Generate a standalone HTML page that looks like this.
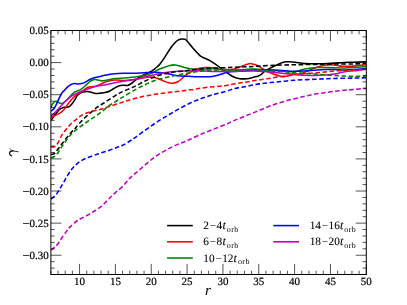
<!DOCTYPE html>
<html><head><meta charset="utf-8"><title>gamma vs r</title>
<style>
html,body{margin:0;padding:0;background:#ffffff;}
body{width:407px;height:305px;overflow:hidden;position:relative;font-family:"Liberation Serif",serif;}
</style></head><body>
<svg width="407" height="305" viewBox="0 0 407 305" style="position:absolute;left:0;top:0">
<rect x="0" y="0" width="407" height="305" fill="#ffffff"/>
<defs><clipPath id="ax"><rect x="50.875" y="30.500" width="315.425" height="244.000"/></clipPath><filter id="ff" x="0" y="0" width="407" height="305" filterUnits="userSpaceOnUse"><feOffset dx="0" dy="0"/></filter></defs>
<g clip-path="url(#ax)" fill="none" stroke-linejoin="round">
<path d="M51.00,120.50C51.57,119.67 53.33,116.93 54.40,115.50C55.47,114.07 56.42,113.00 57.40,111.90C58.38,110.80 59.32,109.65 60.30,108.90C61.28,108.15 62.32,107.65 63.30,107.40C64.28,107.15 65.22,107.52 66.20,107.40C67.18,107.28 68.22,107.32 69.20,106.70C70.18,106.08 71.12,104.93 72.10,103.70C73.08,102.47 74.25,100.65 75.10,99.30C75.95,97.95 76.35,96.64 77.20,95.60C78.05,94.55 79.22,93.64 80.20,93.03C81.18,92.42 81.88,92.17 83.10,91.93C84.32,91.69 86.02,91.52 87.50,91.60C88.98,91.68 90.52,92.08 92.00,92.40C93.48,92.72 94.93,93.42 96.40,93.54C97.87,93.66 99.37,93.28 100.80,93.12C102.23,92.96 103.48,92.95 105.00,92.60C106.52,92.25 108.43,91.68 109.90,91.00C111.37,90.32 112.32,89.33 113.80,88.50C115.28,87.67 117.15,86.53 118.80,86.00C120.45,85.47 122.25,85.40 123.70,85.30C125.15,85.20 126.28,85.67 127.50,85.40C128.72,85.13 129.83,84.43 131.00,83.70C132.17,82.97 133.33,81.92 134.50,81.00C135.67,80.08 136.85,79.02 138.00,78.20C139.15,77.38 140.02,76.85 141.40,76.10C142.78,75.35 144.83,74.38 146.30,73.70C147.77,73.02 148.90,72.72 150.20,72.00C151.50,71.28 152.88,70.32 154.10,69.40C155.32,68.48 156.52,67.42 157.50,66.50C158.48,65.58 158.97,65.17 160.00,63.90C161.03,62.63 162.45,60.73 163.70,58.90C164.95,57.07 166.25,54.83 167.50,52.90C168.75,50.97 170.07,48.87 171.20,47.30C172.33,45.73 173.37,44.55 174.30,43.50C175.23,42.45 175.97,41.67 176.80,41.00C177.63,40.33 178.47,39.83 179.30,39.50C180.13,39.17 180.87,39.03 181.80,39.00C182.73,38.97 184.07,39.00 184.90,39.30C185.73,39.60 186.13,40.13 186.80,40.80C187.47,41.47 187.97,42.18 188.90,43.30C189.83,44.42 191.18,46.08 192.40,47.50C193.62,48.92 194.95,50.45 196.20,51.80C197.45,53.15 198.77,54.66 199.90,55.60C201.03,56.54 201.97,56.91 203.00,57.44C204.03,57.97 204.90,58.24 206.10,58.80C207.30,59.36 208.53,59.81 210.20,60.80C211.87,61.79 214.13,63.34 216.10,64.72C218.07,66.10 220.03,67.64 222.00,69.09C223.97,70.54 225.93,72.07 227.90,73.40C229.87,74.73 231.83,76.18 233.80,77.06C235.77,77.94 237.53,78.43 239.70,78.70C241.87,78.97 244.63,78.89 246.80,78.70C248.97,78.51 251.33,77.87 252.70,77.55C254.07,77.23 254.13,77.00 255.00,76.77C255.87,76.54 256.92,76.52 257.90,76.18C258.88,75.84 259.75,75.53 260.90,74.71C262.05,73.88 263.33,72.29 264.80,71.23C266.27,70.17 268.05,69.25 269.70,68.36C271.35,67.47 273.05,66.68 274.70,65.89C276.35,65.10 277.97,64.29 279.60,63.64C281.23,62.99 282.87,62.28 284.50,61.97C286.13,61.66 287.65,61.76 289.40,61.80C291.15,61.84 292.43,61.89 295.00,62.19C297.57,62.49 301.52,63.36 304.80,63.62C308.08,63.88 311.42,63.75 314.70,63.77C317.98,63.79 321.23,63.87 324.50,63.76C327.77,63.65 331.03,63.33 334.30,63.12C337.57,62.91 340.82,62.64 344.10,62.49C347.38,62.34 350.35,62.35 354.00,62.24C357.65,62.13 364.00,61.89 366.00,61.82" stroke="#000000" stroke-width="1.55"/>
<path d="M51.00,117.60C51.65,117.27 53.43,116.35 54.90,115.60C56.37,114.85 58.32,114.08 59.80,113.10C61.28,112.12 62.65,110.92 63.80,109.70C64.95,108.48 65.72,107.12 66.70,105.80C67.68,104.48 68.72,103.05 69.70,101.80C70.68,100.55 71.47,99.50 72.60,98.30C73.73,97.10 75.10,95.62 76.50,94.60C77.90,93.58 79.58,93.10 81.00,92.20C82.42,91.30 83.85,90.02 85.00,89.20C86.15,88.38 86.75,87.72 87.90,87.30C89.05,86.88 90.58,86.88 91.90,86.70C93.22,86.52 94.50,86.52 95.80,86.20C97.10,85.88 98.38,85.37 99.70,84.80C101.02,84.23 102.38,83.38 103.70,82.80C105.02,82.22 106.13,81.72 107.60,81.30C109.07,80.88 110.87,80.50 112.50,80.30C114.13,80.10 115.32,80.05 117.40,80.10C119.48,80.15 122.15,80.72 125.00,80.60C127.85,80.48 132.33,79.68 134.50,79.40C136.67,79.12 136.65,79.13 138.00,78.90C139.35,78.67 141.02,78.28 142.60,78.00C144.18,77.72 145.87,77.33 147.50,77.20C149.13,77.07 151.10,77.10 152.40,77.20C153.70,77.30 154.37,77.58 155.30,77.80C156.23,78.02 157.05,78.18 158.00,78.50C158.95,78.82 159.90,79.22 161.00,79.70C162.10,80.18 163.35,80.88 164.60,81.40C165.85,81.92 167.13,82.50 168.50,82.80C169.87,83.10 171.25,83.37 172.80,83.20C174.35,83.03 176.32,82.54 177.80,81.80C179.28,81.06 180.40,79.81 181.70,78.75C183.00,77.69 184.28,76.47 185.60,75.44C186.92,74.41 188.12,73.51 189.60,72.60C191.08,71.69 192.87,70.73 194.50,70.00C196.13,69.27 197.77,68.60 199.40,68.20C201.03,67.80 202.67,67.73 204.30,67.60C205.93,67.47 207.57,67.37 209.20,67.44C210.83,67.51 212.30,67.67 214.10,68.00C215.90,68.33 218.03,69.07 220.00,69.40C221.97,69.73 223.93,69.97 225.90,70.00C227.87,70.03 230.08,69.88 231.80,69.60C233.52,69.32 234.83,68.75 236.20,68.30C237.57,67.85 238.78,67.35 240.00,66.90C241.22,66.45 242.33,66.03 243.50,65.60C244.67,65.17 245.92,64.63 247.00,64.30C248.08,63.97 249.00,63.63 250.00,63.60C251.00,63.57 252.17,63.93 253.00,64.10C253.83,64.27 254.18,64.33 255.00,64.60C255.82,64.87 256.92,65.20 257.90,65.70C258.88,66.20 259.75,66.88 260.90,67.60C262.05,68.32 263.33,69.18 264.80,70.00C266.27,70.82 268.05,71.75 269.70,72.50C271.35,73.25 273.05,73.90 274.70,74.50C276.35,75.10 278.30,75.73 279.60,76.10C280.90,76.47 281.52,76.65 282.50,76.70C283.48,76.75 284.35,76.58 285.50,76.40C286.65,76.22 287.82,75.90 289.40,75.60C290.98,75.30 293.58,74.74 295.00,74.60C296.42,74.46 296.92,74.93 297.90,74.78C298.88,74.63 299.42,74.26 300.90,73.70C302.38,73.14 304.83,72.22 306.80,71.40C308.77,70.58 310.73,69.58 312.70,68.80C314.67,68.02 316.63,67.33 318.60,66.74C320.57,66.15 322.53,65.59 324.50,65.25C326.47,64.91 328.43,64.71 330.40,64.70C332.37,64.69 334.33,64.95 336.30,65.20C338.27,65.45 339.92,66.03 342.20,66.20C344.48,66.37 347.38,66.30 350.00,66.20C352.62,66.10 355.23,65.85 357.90,65.60C360.57,65.35 364.65,64.85 366.00,64.70" stroke="#ff0000" stroke-width="1.55"/>
<path d="M51.00,107.60C51.32,106.93 52.08,104.65 52.90,103.60C53.72,102.55 54.92,101.47 55.90,101.30C56.88,101.13 57.82,102.23 58.80,102.60C59.78,102.97 60.82,103.63 61.80,103.50C62.78,103.37 63.75,102.52 64.70,101.80C65.65,101.08 66.62,100.08 67.50,99.20C68.38,98.32 69.13,97.43 70.00,96.50C70.87,95.57 71.75,94.43 72.70,93.60C73.65,92.77 74.63,92.02 75.70,91.50C76.77,90.98 77.95,91.07 79.10,90.50C80.25,89.93 81.37,89.08 82.60,88.10C83.83,87.12 85.20,85.75 86.50,84.60C87.80,83.45 89.25,82.02 90.40,81.20C91.55,80.38 92.58,79.98 93.40,79.70C94.22,79.42 94.53,79.45 95.30,79.50C96.07,79.55 97.05,79.78 98.00,80.00C98.95,80.22 99.83,80.70 101.00,80.80C102.17,80.90 102.70,80.97 105.00,80.60C107.30,80.23 111.52,79.03 114.80,78.60C118.08,78.17 121.42,78.27 124.70,78.00C127.98,77.73 131.23,77.40 134.50,77.00C137.77,76.60 141.35,76.25 144.30,75.60C147.25,74.95 149.90,74.08 152.20,73.10C154.50,72.12 156.13,70.65 158.10,69.70C160.07,68.75 162.03,68.10 164.00,67.40C165.97,66.70 168.10,65.92 169.90,65.50C171.70,65.08 173.17,64.83 174.80,64.90C176.43,64.97 178.05,65.48 179.70,65.90C181.35,66.32 182.88,66.92 184.70,67.40C186.52,67.88 188.32,68.47 190.60,68.80C192.88,69.13 195.78,69.37 198.40,69.40C201.02,69.43 203.68,69.10 206.30,69.00C208.92,68.90 211.15,68.73 214.10,68.80C217.05,68.87 220.72,69.20 224.00,69.40C227.28,69.60 230.30,70.00 233.80,70.00C237.30,70.00 241.52,69.55 245.00,69.40C248.48,69.25 249.82,68.92 254.70,69.10C259.58,69.28 267.75,70.08 274.30,70.50C280.85,70.92 289.23,71.82 294.00,71.65C298.77,71.48 300.12,70.12 302.90,69.50C305.68,68.88 308.08,68.23 310.70,67.90C313.32,67.57 315.98,67.55 318.60,67.50C321.22,67.45 323.78,67.57 326.40,67.60C329.02,67.62 331.35,67.58 334.30,67.65C337.25,67.72 340.82,68.01 344.10,68.00C347.38,67.99 350.35,67.83 354.00,67.60C357.65,67.37 364.00,66.77 366.00,66.60" stroke="#008000" stroke-width="1.55"/>
<path d="M51.00,111.20C51.25,111.00 52.02,110.42 52.50,110.00C52.98,109.58 53.25,109.65 53.90,108.70C54.55,107.75 55.58,105.93 56.40,104.30C57.22,102.67 58.07,100.45 58.80,98.90C59.53,97.35 60.18,96.10 60.80,95.00C61.42,93.90 61.85,93.13 62.50,92.30C63.15,91.47 63.83,90.92 64.70,90.00C65.57,89.08 66.72,87.68 67.70,86.80C68.68,85.92 69.50,85.25 70.60,84.70C71.70,84.15 73.07,83.62 74.30,83.50C75.53,83.38 76.77,83.98 78.00,84.00C79.23,84.02 80.47,83.92 81.70,83.60C82.93,83.28 84.05,82.78 85.40,82.10C86.75,81.42 88.33,80.23 89.80,79.50C91.27,78.77 92.48,78.20 94.20,77.70C95.92,77.20 98.30,76.92 100.10,76.50C101.90,76.08 102.55,75.67 105.00,75.20C107.45,74.73 111.52,74.02 114.80,73.70C118.08,73.38 121.42,73.37 124.70,73.30C127.98,73.23 131.23,73.40 134.50,73.30C137.77,73.20 141.03,72.87 144.30,72.70C147.57,72.53 150.82,72.27 154.10,72.30C157.38,72.33 160.87,72.45 164.00,72.90C167.13,73.35 170.12,74.47 172.90,75.00C175.68,75.53 178.08,75.88 180.70,76.10C183.32,76.32 185.98,76.20 188.60,76.30C191.22,76.40 193.78,76.63 196.40,76.70C199.02,76.77 201.67,76.74 204.30,76.70C206.93,76.66 209.90,76.71 212.20,76.46C214.50,76.21 216.13,75.74 218.10,75.20C220.07,74.66 221.72,73.83 224.00,73.20C226.28,72.57 228.30,71.80 231.80,71.43C235.30,71.06 241.18,71.25 245.00,71.00C248.82,70.75 249.82,70.08 254.70,69.90C259.58,69.72 267.75,69.67 274.30,69.90C280.85,70.13 288.92,71.13 294.00,71.30C299.08,71.47 301.35,71.08 304.80,70.90C308.25,70.72 311.42,70.42 314.70,70.20C317.98,69.98 321.23,69.70 324.50,69.60C327.77,69.50 331.03,69.53 334.30,69.60C337.57,69.67 340.82,70.00 344.10,70.00C347.38,70.00 350.35,69.83 354.00,69.60C357.65,69.37 364.00,68.77 366.00,68.60" stroke="#0000ff" stroke-width="1.55"/>
<path d="M51.00,116.50C51.82,115.67 54.35,113.12 55.90,111.50C57.45,109.88 58.83,108.38 60.30,106.80C61.77,105.22 63.22,103.50 64.70,102.00C66.18,100.50 67.72,98.99 69.20,97.80C70.68,96.61 71.88,95.81 73.60,94.86C75.32,93.91 77.53,92.93 79.50,92.10C81.47,91.27 83.43,90.61 85.40,89.90C87.37,89.19 89.33,88.47 91.30,87.82C93.27,87.17 94.92,86.49 97.20,86.00C99.48,85.51 102.07,85.45 105.00,84.90C107.93,84.35 111.52,83.34 114.80,82.69C118.08,82.04 121.42,81.55 124.70,81.00C127.98,80.45 131.23,80.06 134.50,79.40C137.77,78.74 141.03,77.81 144.30,77.03C147.57,76.25 150.82,75.42 154.10,74.70C157.38,73.98 160.55,73.25 164.00,72.70C167.45,72.15 171.35,71.68 174.80,71.40C178.25,71.12 181.42,71.10 184.70,71.00C187.98,70.90 191.23,70.80 194.50,70.80C197.77,70.80 201.03,70.90 204.30,71.00C207.57,71.10 210.82,71.33 214.10,71.40C217.38,71.47 220.72,71.40 224.00,71.40C227.28,71.40 230.30,71.48 233.80,71.40C237.30,71.32 241.52,70.95 245.00,70.90C248.48,70.85 251.45,71.02 254.70,71.10C257.95,71.18 261.23,71.18 264.50,71.40C267.77,71.62 271.03,72.07 274.30,72.40C277.57,72.73 280.82,73.12 284.10,73.40C287.38,73.68 290.55,73.79 294.00,74.10C297.45,74.41 301.35,75.02 304.80,75.25C308.25,75.48 311.42,75.53 314.70,75.50C317.98,75.47 321.88,75.27 324.50,75.10C327.12,74.93 328.43,74.67 330.40,74.46C332.37,74.25 334.33,74.18 336.30,73.82C338.27,73.46 339.92,72.77 342.20,72.30C344.48,71.83 347.38,71.32 350.00,71.00C352.62,70.68 355.23,70.70 357.90,70.40C360.57,70.10 364.65,69.42 366.00,69.22" stroke="#bf00bf" stroke-width="1.55"/>
<path d="M51.00,154.60C51.57,154.42 53.42,154.17 54.40,153.50C55.38,152.83 56.00,151.73 56.90,150.60C57.80,149.47 58.82,148.00 59.80,146.70C60.78,145.40 61.65,144.28 62.80,142.80C63.95,141.32 65.40,139.45 66.70,137.80C68.00,136.15 69.45,134.20 70.60,132.90C71.75,131.60 72.77,130.82 73.60,130.00C74.43,129.18 74.62,129.12 75.60,128.00C76.58,126.88 77.87,125.04 79.50,123.25C81.13,121.46 83.43,119.11 85.40,117.25C87.37,115.39 89.33,113.75 91.30,112.08C93.27,110.41 95.23,108.63 97.20,107.20C99.17,105.77 101.13,104.77 103.10,103.50C105.07,102.23 107.03,100.88 109.00,99.60C110.97,98.32 113.07,96.92 114.90,95.80C116.73,94.68 118.37,93.75 120.00,92.90C121.63,92.05 122.28,91.75 124.70,90.70C127.12,89.65 131.23,88.13 134.50,86.58C137.77,85.03 141.03,83.00 144.30,81.40C147.57,79.80 150.82,78.25 154.10,77.00C157.38,75.75 160.72,74.73 164.00,73.90C167.28,73.07 170.30,72.53 173.80,72.04C177.30,71.55 182.20,71.30 185.00,70.94C187.80,70.58 187.38,70.31 190.60,69.90C193.82,69.49 199.40,68.81 204.30,68.48C209.20,68.15 215.08,68.10 220.00,67.90C224.92,67.70 229.63,67.48 233.80,67.30C237.97,67.12 241.52,66.95 245.00,66.80C248.48,66.65 249.82,66.66 254.70,66.40C259.58,66.14 267.75,65.50 274.30,65.23C280.85,64.96 287.27,64.94 294.00,64.80C300.73,64.66 307.98,64.52 314.70,64.40C321.42,64.28 327.75,64.17 334.30,64.09C340.85,64.01 348.72,64.03 354.00,63.90C359.28,63.77 364.00,63.40 366.00,63.30" stroke="#000000" stroke-width="1.55" stroke-dasharray="4.6 2.5"/>
<path d="M51.00,147.10C51.63,147.00 53.67,147.18 54.80,146.53C55.93,145.88 56.82,144.78 57.80,143.20C58.78,141.62 59.55,139.08 60.70,137.05C61.85,135.03 63.38,132.83 64.70,131.05C66.02,129.28 67.37,127.80 68.60,126.40C69.83,125.00 70.85,123.77 72.10,122.65C73.35,121.53 74.87,120.71 76.10,119.71C77.33,118.71 77.95,117.70 79.50,116.66C81.05,115.62 83.43,114.33 85.40,113.49C87.37,112.65 89.33,112.15 91.30,111.60C93.27,111.05 95.23,110.73 97.20,110.21C99.17,109.69 101.13,109.09 103.10,108.47C105.07,107.85 106.72,107.23 109.00,106.50C111.28,105.77 114.18,104.94 116.80,104.10C119.42,103.26 122.20,102.29 124.70,101.49C127.20,100.69 128.65,100.16 131.80,99.30C134.95,98.44 139.67,97.13 143.60,96.30C147.53,95.47 151.47,94.90 155.40,94.30C159.33,93.70 163.27,93.23 167.20,92.71C171.13,92.19 175.07,91.69 179.00,91.20C182.93,90.72 186.58,90.38 190.80,89.80C195.02,89.22 198.77,88.39 204.30,87.70C209.83,87.01 218.88,86.31 224.00,85.66C229.12,85.00 231.53,84.33 235.00,83.77C238.47,83.21 241.52,82.85 244.80,82.30C248.08,81.75 251.42,81.02 254.70,80.49C257.98,79.96 261.23,79.58 264.50,79.10C267.77,78.62 269.38,78.35 274.30,77.60C279.22,76.85 288.92,75.28 294.00,74.60C299.08,73.92 301.35,73.75 304.80,73.50C308.25,73.25 311.42,73.35 314.70,73.10C317.98,72.85 321.23,72.34 324.50,71.98C327.77,71.62 331.03,71.16 334.30,70.93C337.57,70.70 340.82,70.75 344.10,70.60C347.38,70.44 350.35,70.23 354.00,70.00C357.65,69.77 364.00,69.33 366.00,69.20" stroke="#ff0000" stroke-width="1.55" stroke-dasharray="4.6 2.5"/>
<path d="M51.00,158.00C51.57,157.75 53.33,157.25 54.40,156.50C55.47,155.75 56.50,154.65 57.40,153.50C58.30,152.35 58.90,150.98 59.80,149.60C60.70,148.22 61.65,146.83 62.80,145.20C63.95,143.57 65.40,141.52 66.70,139.80C68.00,138.08 69.45,136.22 70.60,134.90C71.75,133.58 72.12,133.18 73.60,131.90C75.08,130.62 77.53,128.73 79.50,127.25C81.47,125.77 83.43,124.39 85.40,123.00C87.37,121.61 89.33,120.25 91.30,118.93C93.27,117.61 95.23,116.50 97.20,115.10C99.17,113.70 101.13,112.11 103.10,110.55C105.07,108.98 107.03,107.13 109.00,105.71C110.97,104.28 112.93,103.23 114.90,102.00C116.87,100.77 119.17,99.32 120.80,98.30C122.43,97.28 122.42,97.26 124.70,95.90C126.98,94.55 131.23,91.99 134.50,90.17C137.77,88.35 141.03,86.56 144.30,85.00C147.57,83.44 150.82,81.95 154.10,80.80C157.38,79.64 160.55,78.94 164.00,78.07C167.45,77.20 171.35,76.34 174.80,75.60C178.25,74.86 181.42,74.22 184.70,73.63C187.98,73.04 191.23,72.51 194.50,72.04C197.77,71.57 201.05,71.11 204.30,70.80C207.55,70.49 210.72,70.37 214.00,70.20C217.28,70.03 220.70,69.83 224.00,69.80C227.30,69.77 230.30,70.02 233.80,70.00C237.30,69.98 241.52,69.77 245.00,69.70C248.48,69.63 251.37,69.48 254.70,69.60C258.03,69.72 261.62,70.14 265.00,70.40C268.38,70.66 271.67,70.92 275.00,71.15C278.33,71.38 281.67,71.53 285.00,71.80C288.33,72.07 290.05,72.42 295.00,72.80C299.95,73.18 308.15,73.65 314.70,74.10C321.25,74.55 329.40,75.17 334.30,75.50C339.20,75.83 340.82,75.95 344.10,76.10C347.38,76.25 350.35,76.40 354.00,76.40C357.65,76.40 364.00,76.15 366.00,76.10" stroke="#008000" stroke-width="1.55" stroke-dasharray="4.6 2.5"/>
<path d="M51.00,199.00C51.80,198.33 54.35,196.65 55.80,195.00C57.25,193.35 58.38,191.22 59.70,189.10C61.02,186.98 62.38,184.58 63.70,182.30C65.02,180.02 66.30,177.53 67.60,175.40C68.90,173.27 70.18,171.20 71.50,169.50C72.82,167.80 74.02,166.58 75.50,165.20C76.98,163.82 78.60,162.38 80.40,161.20C82.20,160.02 84.02,159.08 86.30,158.10C88.58,157.12 91.55,156.18 94.10,155.30C96.65,154.42 99.03,153.65 101.60,152.80C104.17,151.95 106.97,151.08 109.50,150.20C112.03,149.32 114.60,148.32 116.80,147.50C119.00,146.68 120.20,146.58 122.70,145.30C125.20,144.02 128.32,142.16 131.80,139.83C135.28,137.50 139.67,134.14 143.60,131.34C147.53,128.54 151.47,125.63 155.40,123.04C159.33,120.45 163.27,118.15 167.20,115.78C171.13,113.41 175.07,111.02 179.00,108.85C182.93,106.68 186.87,104.58 190.80,102.78C194.73,100.98 198.67,99.47 202.60,98.06C206.53,96.65 210.47,95.44 214.40,94.31C218.33,93.18 222.77,92.29 226.20,91.30C229.63,90.31 231.90,89.16 235.00,88.39C238.10,87.62 241.52,87.31 244.80,86.70C248.08,86.09 251.42,85.27 254.70,84.70C257.98,84.13 261.23,83.72 264.50,83.30C267.77,82.88 271.03,82.55 274.30,82.20C277.57,81.85 280.82,81.52 284.10,81.20C287.38,80.88 288.90,80.62 294.00,80.30C299.10,79.98 307.98,79.58 314.70,79.27C321.42,78.96 327.75,78.65 334.30,78.45C340.85,78.25 348.72,78.22 354.00,78.10C359.28,77.97 364.00,77.77 366.00,77.70" stroke="#0000ff" stroke-width="1.55" stroke-dasharray="4.6 2.5"/>
<path d="M51.00,250.00C51.58,249.57 53.43,248.30 54.50,247.40C55.57,246.50 56.27,246.03 57.40,244.60C58.53,243.17 59.92,240.83 61.30,238.80C62.68,236.77 64.55,234.03 65.70,232.40C66.85,230.77 67.47,229.92 68.20,229.00C68.93,228.08 69.03,227.93 70.10,226.90C71.17,225.87 73.28,223.90 74.60,222.80C75.92,221.70 76.85,221.05 78.00,220.30C79.15,219.55 79.93,219.13 81.50,218.30C83.07,217.47 85.65,216.27 87.40,215.30C89.15,214.33 90.37,213.48 92.00,212.50C93.63,211.52 95.35,210.70 97.20,209.40C99.05,208.10 101.13,206.47 103.10,204.70C105.07,202.93 107.03,200.73 109.00,198.80C110.97,196.87 112.62,195.18 114.90,193.10C117.18,191.02 120.28,188.72 122.70,186.30C125.12,183.88 127.63,180.48 129.40,178.60C131.17,176.72 131.58,176.48 133.30,175.00C135.02,173.52 137.42,171.65 139.70,169.70C141.98,167.75 144.53,165.37 147.00,163.30C149.47,161.23 152.00,159.13 154.50,157.30C157.00,155.47 159.55,153.78 162.00,152.30C164.45,150.82 166.78,149.63 169.20,148.40C171.62,147.17 174.03,145.97 176.50,144.90C178.97,143.83 181.62,142.98 184.00,142.00C186.38,141.02 187.70,140.42 190.80,139.00C193.90,137.58 198.67,135.18 202.60,133.50C206.53,131.82 210.47,130.45 214.40,128.90C218.33,127.35 223.12,125.52 226.20,124.20C229.28,122.88 229.82,122.31 232.90,120.99C235.98,119.66 240.27,118.02 244.70,116.25C249.13,114.48 254.58,112.32 259.50,110.35C264.42,108.38 269.28,106.17 274.20,104.45C279.12,102.73 284.08,101.37 289.00,100.05C293.92,98.73 299.42,97.55 303.70,96.55C307.98,95.55 311.23,94.68 314.70,94.05C318.17,93.42 321.23,93.20 324.50,92.75C327.77,92.30 331.03,91.75 334.30,91.35C337.57,90.95 340.82,90.67 344.10,90.35C347.38,90.03 350.35,89.74 354.00,89.42C357.65,89.10 364.00,88.59 366.00,88.42" stroke="#bf00bf" stroke-width="1.55" stroke-dasharray="4.6 2.5"/>
</g>
<path d="M50.88,274.50v-3.80M50.88,30.50v3.80M58.04,274.50v-3.80M58.04,30.50v3.80M65.21,274.50v-3.80M65.21,30.50v3.80M72.38,274.50v-3.80M72.38,30.50v3.80M79.55,274.50v-10.60M79.55,30.50v10.60M86.72,274.50v-3.80M86.72,30.50v3.80M93.89,274.50v-3.80M93.89,30.50v3.80M101.06,274.50v-3.80M101.06,30.50v3.80M108.22,274.50v-3.80M108.22,30.50v3.80M115.39,274.50v-10.60M115.39,30.50v10.60M122.56,274.50v-3.80M122.56,30.50v3.80M129.73,274.50v-3.80M129.73,30.50v3.80M136.90,274.50v-3.80M136.90,30.50v3.80M144.07,274.50v-3.80M144.07,30.50v3.80M151.24,274.50v-10.60M151.24,30.50v10.60M158.41,274.50v-3.80M158.41,30.50v3.80M165.57,274.50v-3.80M165.57,30.50v3.80M172.74,274.50v-3.80M172.74,30.50v3.80M179.91,274.50v-3.80M179.91,30.50v3.80M187.08,274.50v-10.60M187.08,30.50v10.60M194.25,274.50v-3.80M194.25,30.50v3.80M201.42,274.50v-3.80M201.42,30.50v3.80M208.59,274.50v-3.80M208.59,30.50v3.80M215.76,274.50v-3.80M215.76,30.50v3.80M222.93,274.50v-10.60M222.93,30.50v10.60M230.09,274.50v-3.80M230.09,30.50v3.80M237.26,274.50v-3.80M237.26,30.50v3.80M244.43,274.50v-3.80M244.43,30.50v3.80M251.60,274.50v-3.80M251.60,30.50v3.80M258.77,274.50v-10.60M258.77,30.50v10.60M265.94,274.50v-3.80M265.94,30.50v3.80M273.11,274.50v-3.80M273.11,30.50v3.80M280.27,274.50v-3.80M280.27,30.50v3.80M287.44,274.50v-3.80M287.44,30.50v3.80M294.61,274.50v-10.60M294.61,30.50v10.60M301.78,274.50v-3.80M301.78,30.50v3.80M308.95,274.50v-3.80M308.95,30.50v3.80M316.12,274.50v-3.80M316.12,30.50v3.80M323.29,274.50v-3.80M323.29,30.50v3.80M330.46,274.50v-10.60M330.46,30.50v10.60M337.62,274.50v-3.80M337.62,30.50v3.80M344.79,274.50v-3.80M344.79,30.50v3.80M351.96,274.50v-3.80M351.96,30.50v3.80M359.13,274.50v-3.80M359.13,30.50v3.80M366.30,274.50v-10.60M366.30,30.50v10.60M50.88,274.50h3.80M366.30,274.50h-3.80M50.88,268.08h3.80M366.30,268.08h-3.80M50.88,261.66h3.80M366.30,261.66h-3.80M50.88,255.24h10.60M366.30,255.24h-10.60M50.88,248.82h3.80M366.30,248.82h-3.80M50.88,242.39h3.80M366.30,242.39h-3.80M50.88,235.97h3.80M366.30,235.97h-3.80M50.88,229.55h3.80M366.30,229.55h-3.80M50.88,223.13h10.60M366.30,223.13h-10.60M50.88,216.71h3.80M366.30,216.71h-3.80M50.88,210.29h3.80M366.30,210.29h-3.80M50.88,203.87h3.80M366.30,203.87h-3.80M50.88,197.45h3.80M366.30,197.45h-3.80M50.88,191.03h10.60M366.30,191.03h-10.60M50.88,184.61h3.80M366.30,184.61h-3.80M50.88,178.18h3.80M366.30,178.18h-3.80M50.88,171.76h3.80M366.30,171.76h-3.80M50.88,165.34h3.80M366.30,165.34h-3.80M50.88,158.92h10.60M366.30,158.92h-10.60M50.88,152.50h3.80M366.30,152.50h-3.80M50.88,146.08h3.80M366.30,146.08h-3.80M50.88,139.66h3.80M366.30,139.66h-3.80M50.88,133.24h3.80M366.30,133.24h-3.80M50.88,126.82h10.60M366.30,126.82h-10.60M50.88,120.39h3.80M366.30,120.39h-3.80M50.88,113.97h3.80M366.30,113.97h-3.80M50.88,107.55h3.80M366.30,107.55h-3.80M50.88,101.13h3.80M366.30,101.13h-3.80M50.88,94.71h10.60M366.30,94.71h-10.60M50.88,88.29h3.80M366.30,88.29h-3.80M50.88,81.87h3.80M366.30,81.87h-3.80M50.88,75.45h3.80M366.30,75.45h-3.80M50.88,69.03h3.80M366.30,69.03h-3.80M50.88,62.61h10.60M366.30,62.61h-10.60M50.88,56.18h3.80M366.30,56.18h-3.80M50.88,49.76h3.80M366.30,49.76h-3.80M50.88,43.34h3.80M366.30,43.34h-3.80M50.88,36.92h3.80M366.30,36.92h-3.80M50.88,30.50h10.60M366.30,30.50h-10.60" stroke="#000" stroke-width="0.68" fill="none"/>
<rect x="50.875" y="30.500" width="315.425" height="244.000" fill="none" stroke="#000" stroke-width="1.0"/>
<g filter="url(#ff)" style="text-rendering:geometricPrecision" stroke="#000" stroke-width="0.20">
<g font-family="'Liberation Serif', serif" font-size="11.00" fill="#000">
<text x="79.55" y="285.20" text-anchor="middle">10</text>
<text x="115.39" y="285.20" text-anchor="middle">15</text>
<text x="151.24" y="285.20" text-anchor="middle">20</text>
<text x="187.08" y="285.20" text-anchor="middle">25</text>
<text x="222.93" y="285.20" text-anchor="middle">30</text>
<text x="258.77" y="285.20" text-anchor="middle">35</text>
<text x="294.61" y="285.20" text-anchor="middle">40</text>
<text x="330.46" y="285.20" text-anchor="middle">45</text>
<text x="366.30" y="285.20" text-anchor="middle">50</text>
<text transform="translate(29.85,258.89) scale(1.17,1)" text-anchor="end">−</text>
<text x="48.85" y="258.89" text-anchor="end">0.30</text>
<text transform="translate(29.85,226.78) scale(1.17,1)" text-anchor="end">−</text>
<text x="48.85" y="226.78" text-anchor="end">0.25</text>
<text transform="translate(29.85,194.68) scale(1.17,1)" text-anchor="end">−</text>
<text x="48.85" y="194.68" text-anchor="end">0.20</text>
<text transform="translate(29.85,162.57) scale(1.17,1)" text-anchor="end">−</text>
<text x="48.85" y="162.57" text-anchor="end">0.15</text>
<text transform="translate(29.85,130.47) scale(1.17,1)" text-anchor="end">−</text>
<text x="48.85" y="130.47" text-anchor="end">0.10</text>
<text transform="translate(29.85,98.36) scale(1.17,1)" text-anchor="end">−</text>
<text x="48.85" y="98.36" text-anchor="end">0.05</text>
<text x="48.85" y="66.26" text-anchor="end">0.00</text>
<text x="48.85" y="34.15" text-anchor="end">0.05</text>
</g>
<text x="207.9" y="294.8" text-anchor="middle" font-family="'Liberation Serif', serif" font-style="italic" font-size="15.2" fill="#000" stroke="none">r</text>
<g aria-label="γ" fill="none" stroke="#000" stroke-linecap="round" stroke-linejoin="round"><path d="M18.2,151.75L12.9,150.9" stroke-width="0.8"/><path d="M12.9,150.9C11.2,150.8 9.6,151.9 9.5,153.6C9.5,154.8 10.4,155.6 11.6,155.85" stroke-width="1.1"/><path d="M12.9,150.9L9.6,148.7" stroke-width="0.5"/></g>
<path d="M167.10,225.60h25.7" stroke="#000000" stroke-width="1.55" fill="none"/>
<text y="229.10" x="206.20 213.00 219.40" text-anchor="middle" font-family="'Liberation Serif', serif" font-size="11.30" fill="#000" stroke-width="0.08">2−4</text>
<text x="222.40" y="229.10" font-family="'Liberation Serif', serif" font-style="italic" font-size="11.9" fill="#000" stroke-width="0.1">t</text>
<text x="226.70" y="232.00" font-family="'Liberation Serif', serif" font-size="8" letter-spacing="0.45" fill="#000" stroke="none">orb</text>
<path d="M167.10,241.80h25.7" stroke="#ff0000" stroke-width="1.55" fill="none"/>
<text y="245.30" x="206.20 213.00 219.40" text-anchor="middle" font-family="'Liberation Serif', serif" font-size="11.30" fill="#000" stroke-width="0.08">6−8</text>
<text x="222.40" y="245.30" font-family="'Liberation Serif', serif" font-style="italic" font-size="11.9" fill="#000" stroke-width="0.1">t</text>
<text x="226.70" y="248.20" font-family="'Liberation Serif', serif" font-size="8" letter-spacing="0.45" fill="#000" stroke="none">orb</text>
<path d="M167.10,258.00h25.7" stroke="#008000" stroke-width="1.55" fill="none"/>
<text y="261.50" x="206.20 211.80 218.60 225.00 230.60" text-anchor="middle" font-family="'Liberation Serif', serif" font-size="11.30" fill="#000" stroke-width="0.08">10−12</text>
<text x="233.60" y="261.50" font-family="'Liberation Serif', serif" font-style="italic" font-size="11.9" fill="#000" stroke-width="0.1">t</text>
<text x="237.90" y="264.40" font-family="'Liberation Serif', serif" font-size="8" letter-spacing="0.45" fill="#000" stroke="none">orb</text>
<path d="M273.30,225.60h25.7" stroke="#0000ff" stroke-width="1.55" fill="none"/>
<text y="229.10" x="312.60 318.20 325.00 331.40 337.00" text-anchor="middle" font-family="'Liberation Serif', serif" font-size="11.30" fill="#000" stroke-width="0.08">14−16</text>
<text x="340.00" y="229.10" font-family="'Liberation Serif', serif" font-style="italic" font-size="11.9" fill="#000" stroke-width="0.1">t</text>
<text x="344.30" y="232.00" font-family="'Liberation Serif', serif" font-size="8" letter-spacing="0.45" fill="#000" stroke="none">orb</text>
<path d="M273.30,241.80h25.7" stroke="#bf00bf" stroke-width="1.55" fill="none"/>
<text y="245.30" x="312.60 318.20 325.00 331.40 337.00" text-anchor="middle" font-family="'Liberation Serif', serif" font-size="11.30" fill="#000" stroke-width="0.08">18−20</text>
<text x="340.00" y="245.30" font-family="'Liberation Serif', serif" font-style="italic" font-size="11.9" fill="#000" stroke-width="0.1">t</text>
<text x="344.30" y="248.20" font-family="'Liberation Serif', serif" font-size="8" letter-spacing="0.45" fill="#000" stroke="none">orb</text>
</g>
</svg>
</body></html>
